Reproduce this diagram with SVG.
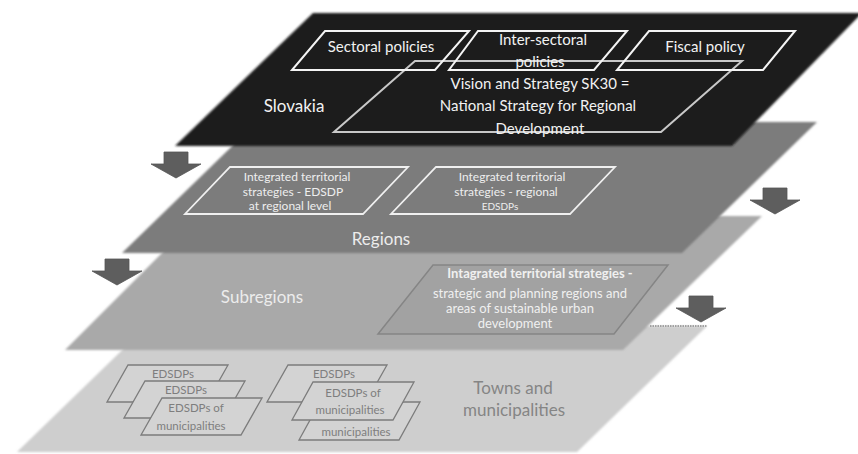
<svg xmlns="http://www.w3.org/2000/svg" width="858" height="454" viewBox="0 0 858 454">
<defs>
<style>
text{font-family:Lato,"Liberation Sans",sans-serif;text-anchor:middle}
.wt{fill:#f2f2f2;font-size:15px}
.rt{fill:#eeeeee;font-size:12px}
.st{fill:#f0f0f0;font-size:13px}
.lbl{font-size:17px}
.tt{fill:#7e7e7e;font-size:11.5px}
.wbox{fill:none;stroke:#f4f4f4;stroke-width:2}
.rbox{fill:none;stroke:#f0f0f0;stroke-width:1.8}
.sbox{fill:#a2a2a2;stroke:#858585;stroke-width:1.5}
.tbox{fill:#d3d3d3;stroke:#7c7c7c;stroke-width:1.3}
.arrow{fill:#5e5e5e;stroke:#555;stroke-width:0.8}
</style>
<path id="arr" d="M-12,-26 H12 V-14 H25 L0,0 L-25,-14 H-12 Z"/>
<filter id="soft" x="-5%" y="-5%" width="110%" height="110%"><feGaussianBlur stdDeviation="0.8"/></filter>
</defs>
<rect width="858" height="454" fill="#ffffff"/>

<g id="layer-towns">
<polygon points="147,326 707,326 577,452 17,452" fill="#cecece" filter="url(#soft)"/>
<line x1="650" y1="326" x2="707" y2="326" stroke="#8a8a8a" stroke-width="1.5" stroke-dasharray="1.5,1"/>
<text class="lbl" x="513" y="394" fill="#858585">Towns and</text>
<text class="lbl" x="514" y="416" fill="#858585">municipalities</text>
</g>

<g id="layer-subregions">
<polygon points="199,216 762,216 623,350 65,350" fill="#a9a9a9" filter="url(#soft)"/>
<text class="lbl" x="262" y="303" fill="#ececec">Subregions</text>
</g>

<g id="layer-regions">
<polygon points="257,122 817,122 682,253 122,253" fill="#7c7c7c" filter="url(#soft)"/>
<text class="lbl" x="381" y="245" fill="#ececec">Regions</text>
</g>

<g id="layer-slovakia">
<polygon points="313,13 862,13 732,146 175,146" fill="#1f1f1f" filter="url(#soft)"/>
<text class="wt" x="294" y="112" style="font-size:17px">Slovakia</text>
</g>

<g id="box-vision">
<polygon class="wbox" points="415,61 742,61 661,132 334,132" stroke-opacity="0.8"/>
<text class="wt" x="540" y="89">Vision and Strategy SK30 =</text>
<text class="wt" x="538" y="111">National Strategy for Regional</text>
<text class="wt" x="540" y="134">Development</text>
</g>

<g id="box-sectoral">
<polygon class="wbox" points="325,31 469,31 435,70 292,70"/>
<text class="wt" x="381" y="52">Sectoral policies</text>
</g>

<g id="box-intersectoral">
<polygon class="wbox" points="478,31 627,31 594,70 449,70"/>
<text class="wt" x="543" y="45">Inter-sectoral</text>
<text class="wt" x="540" y="67">policies</text>
</g>

<g id="box-fiscal">
<polygon class="wbox" points="649,31 795,31 763,70 617,70"/>
<text class="wt" x="705" y="52">Fiscal policy</text>
</g>

<g id="box-edsdp-regional">
<polygon class="rbox" points="230,167 408,167 363,214 185,214"/>
<text class="rt" x="297" y="181">Integrated territorial</text>
<text class="rt" x="293" y="195.5">strategies - EDSDP</text>
<text class="rt" x="290" y="210">at regional level</text>
</g>

<g id="box-regional-edsdps">
<polygon class="rbox" points="436,167 615,167 570,214 391,214"/>
<text class="rt" x="512" y="181">Integrated territorial</text>
<text class="rt" x="506" y="195.5">strategies - regional</text>
<text class="rt" x="500" y="210" style="font-size:10px">EDSDPs</text>
</g>

<g id="box-subregional">
<polygon class="sbox" points="433,265 668,265 614,334 378,334"/>
<text class="st" x="540" y="278" font-weight="bold">Intagrated territorial strategies -</text>
<text class="st" x="530" y="298">strategic and planning regions and</text>
<text class="st" x="520" y="313">areas of sustainable urban</text>
<text class="st" x="515" y="328">development</text>
</g>

<g id="group-left">
<g id="box-edsdps-1">
<polygon class="tbox" points="128,365 228,365 207,402 107,402"/>
<text class="tt" x="173" y="378">EDSDPs</text>
</g>
<g id="box-edsdps-2">
<polygon class="tbox" points="145,381 245,381 224,418 124,418"/>
<text class="tt" x="186" y="394">EDSDPs</text>
</g>
<g id="box-edsdps-3">
<polygon class="tbox" points="162,398 262,398 241,435 141,435"/>
<text class="tt" x="196" y="412">EDSDPs of</text>
<text class="tt" x="191" y="430">municipalities</text>
</g>
</g>

<g id="group-right">
<g id="box-edsdps-4">
<polygon class="tbox" points="288,365 387,365 366,402 267,402"/>
<text class="tt" x="334" y="378">EDSDPs</text>
</g>
<g id="box-municipalities">
<polygon class="tbox" points="320,402 420,402 399,440 299,440"/>
<text class="tt" x="356" y="436">municipalities</text>
</g>
<g id="box-edsdps-5">
<polygon class="tbox" points="313,382 414,382 393,420 292,420"/>
<text class="tt" x="353" y="397">EDSDPs of</text>
<text class="tt" x="350" y="414">municipalities</text>
</g>
</g>

<g id="connectors">
<use href="#arr" class="arrow" transform="translate(176,178)"/>
<use href="#arr" class="arrow" transform="translate(117,285)"/>
<use href="#arr" class="arrow" transform="translate(775,214)"/>
<use href="#arr" class="arrow" transform="translate(701,322)"/>
</g>
</svg>
